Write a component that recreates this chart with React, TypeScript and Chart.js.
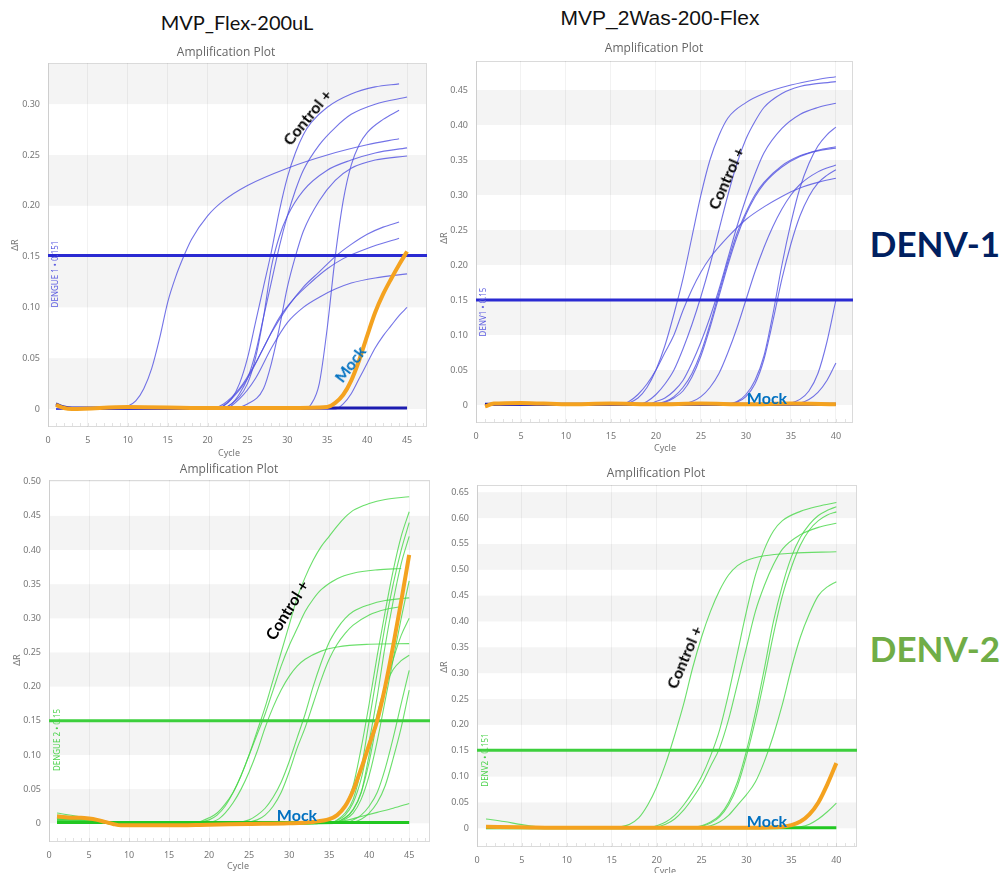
import React, { useEffect, useRef } from "react";
import { Chart, registerables } from "chart.js";

Chart.register(...registerables);

type Pt = [number, number];

// ---------- DENV-1 / MVP_Flex-200uL (45 cycles) ----------
const d1FlexThreshold = 0.151;
const d1FlexCurves: Pt[][] = [
  [[1, 0], [9, 0], [10, 0.003], [11, 0.008], [12, 0.02], [13, 0.04], [14, 0.07], [15, 0.105], [16, 0.13], [17, 0.15], [18, 0.167], [20, 0.19], [22, 0.205], [25, 0.22], [30, 0.237], [35, 0.25], [40, 0.26], [44, 0.266]],
  [[1, 0], [21, 0], [22, 0.003], [23, 0.01], [24, 0.025], [25, 0.05], [26, 0.085], [27, 0.12], [28, 0.155], [29, 0.195], [30, 0.228], [31, 0.252], [32, 0.27], [33, 0.282], [35, 0.297], [38, 0.31], [41, 0.317], [44, 0.32]],
  [[1, 0], [21, 0], [23, 0.005], [24, 0.015], [25, 0.03], [26, 0.055], [27, 0.09], [28, 0.125], [29, 0.16], [30, 0.19], [31, 0.215], [32, 0.235], [34, 0.26], [36, 0.277], [38, 0.29], [41, 0.3], [45, 0.307]],
  [[1, 0], [32, 0], [33, 0.005], [34, 0.025], [35, 0.08], [36, 0.15], [37, 0.205], [38, 0.24], [39, 0.26], [40, 0.272], [42, 0.285], [44, 0.294]],
  [[1, 0], [21, 0], [23, 0.005], [25, 0.025], [26, 0.05], [27, 0.09], [28, 0.14], [29, 0.17], [30, 0.19], [32, 0.215], [35, 0.235], [38, 0.245], [41, 0.252], [45, 0.257]],
  [[1, 0], [22, 0], [25, 0.005], [27, 0.02], [28, 0.045], [29, 0.08], [30, 0.12], [31, 0.15], [32, 0.175], [34, 0.205], [36, 0.225], [38, 0.237], [41, 0.245], [45, 0.249]],
  [[1, 0], [20, 0], [22, 0.005], [24, 0.02], [26, 0.045], [28, 0.075], [30, 0.1], [32, 0.12], [34, 0.135], [36, 0.15], [38, 0.162], [40, 0.172], [42, 0.179], [44, 0.184]],
  [[1, 0], [21, 0], [23, 0.01], [25, 0.03], [27, 0.06], [29, 0.09], [31, 0.11], [33, 0.125], [35, 0.138], [37, 0.148], [40, 0.158], [44, 0.168]],
  [[1, 0], [22, 0], [24, 0.01], [26, 0.03], [28, 0.06], [30, 0.085], [32, 0.1], [34, 0.11], [36, 0.118], [38, 0.124], [41, 0.129], [45, 0.133]],
  [[1, 0], [36, 0], [37, 0.005], [38, 0.015], [39, 0.03], [40, 0.045], [41, 0.06], [42, 0.072], [43, 0.082], [44, 0.092], [45, 0.1]],
];
const d1FlexMock: Pt[] = [[1, 0.004], [2, 0.001], [3, 0], [10, 0.002], [20, 0.001], [30, 0.001], [35, 0.002], [36, 0.006], [37, 0.014], [38, 0.028], [39, 0.048], [40, 0.072], [41, 0.095], [42, 0.113], [43, 0.128], [44, 0.142], [45, 0.155]];
const d1FlexFlat: Pt[] = [[1, 0.005], [2, 0.002], [3, 0.001], [45, 0.001]];

// ---------- DENV-1 / MVP_2Was-200-Flex (40 cycles) ----------
const d1WasThreshold = 0.15;
const d1WasCurves: Pt[][] = [
  [[1, 0], [16, 0], [17, 0.003], [18, 0.01], [19, 0.025], [20, 0.05], [21, 0.085], [22, 0.13], [23, 0.18], [24, 0.24], [25, 0.3], [26, 0.35], [27, 0.385], [28, 0.41], [30, 0.432], [32, 0.445], [35, 0.457], [38, 0.465], [40, 0.469]],
  [[1, 0], [16, 0], [17, 0.005], [18, 0.015], [19, 0.03], [20, 0.05], [21, 0.075], [22, 0.1], [23, 0.135], [24, 0.165], [25, 0.19], [26, 0.21], [28, 0.24], [30, 0.265], [32, 0.283], [34, 0.298], [36, 0.31], [38, 0.318], [40, 0.324]],
  [[1, 0], [18, 0], [19, 0.005], [20, 0.015], [21, 0.03], [22, 0.05], [23, 0.08], [24, 0.115], [25, 0.155], [26, 0.2], [27, 0.25], [28, 0.3], [29, 0.345], [30, 0.38], [31, 0.405], [32, 0.425], [34, 0.445], [36, 0.455], [40, 0.462]],
  [[1, 0], [19, 0], [20, 0.005], [21, 0.01], [22, 0.02], [23, 0.035], [24, 0.06], [25, 0.09], [26, 0.125], [27, 0.165], [28, 0.21], [29, 0.255], [30, 0.295], [31, 0.33], [32, 0.36], [34, 0.395], [36, 0.415], [38, 0.425], [40, 0.431]],
  [[1, 0], [19, 0], [21, 0.005], [22, 0.012], [23, 0.025], [24, 0.045], [25, 0.075], [26, 0.115], [27, 0.16], [28, 0.205], [29, 0.245], [30, 0.275], [31, 0.3], [32, 0.318], [34, 0.342], [36, 0.356], [38, 0.364], [40, 0.369]],
  [[1, 0], [19, 0], [21, 0.004], [22, 0.01], [23, 0.02], [24, 0.04], [25, 0.07], [26, 0.11], [27, 0.155], [28, 0.2], [29, 0.24], [30, 0.272], [31, 0.297], [32, 0.316], [34, 0.34], [36, 0.355], [38, 0.363], [40, 0.367]],
  [[1, 0], [22, 0], [24, 0.005], [25, 0.012], [26, 0.025], [27, 0.045], [28, 0.075], [29, 0.11], [30, 0.15], [31, 0.19], [32, 0.225], [33, 0.255], [34, 0.28], [35, 0.3], [36, 0.315], [38, 0.333], [40, 0.343]],
  [[1, 0], [27, 0], [29, 0.005], [30, 0.015], [31, 0.035], [32, 0.07], [33, 0.13], [34, 0.2], [35, 0.26], [36, 0.31], [37, 0.345], [38, 0.37], [39, 0.386], [40, 0.397]],
  [[1, 0], [27, 0], [29, 0.004], [30, 0.012], [31, 0.03], [32, 0.065], [33, 0.12], [34, 0.18], [35, 0.23], [36, 0.27], [37, 0.298], [38, 0.317], [39, 0.328], [40, 0.336]],
  [[1, 0], [33, 0], [35, 0.003], [36, 0.008], [37, 0.02], [38, 0.045], [39, 0.09], [40, 0.15]],
  [[1, 0], [34, 0], [36, 0.003], [37, 0.008], [38, 0.018], [39, 0.035], [40, 0.06]],
];
const d1WasMock: Pt[] = [[1, -0.002], [2, 0.002], [5, 0.003], [10, 0.001], [15, 0.002], [20, 0.001], [25, 0.002], [30, 0.001], [35, 0.002], [40, 0.001]];
const d1WasFlat: Pt[] = [[1, 0.001], [40, 0.001]];

// ---------- DENV-2 / MVP_Flex-200uL (45 cycles) ----------
const d2FlexThreshold = 0.15;
const d2FlexCurves: Pt[][] = [
  [[1, 0.006], [5, 0.004], [9, -0.002], [18, 0], [19, 0.003], [20, 0.008], [21, 0.015], [22, 0.028], [23, 0.045], [24, 0.07], [25, 0.1], [26, 0.135], [27, 0.17], [28, 0.21], [29, 0.25], [30, 0.29], [31, 0.33], [32, 0.36], [33, 0.385], [34, 0.405], [35, 0.42], [36, 0.435], [37, 0.448], [38, 0.458], [40, 0.468], [42, 0.474], [45, 0.478]],
  [[1, 0.012], [5, 0.006], [9, -0.002], [18, 0], [20, 0.005], [21, 0.012], [22, 0.025], [23, 0.045], [24, 0.07], [25, 0.1], [26, 0.13], [27, 0.16], [28, 0.195], [29, 0.23], [30, 0.26], [31, 0.285], [32, 0.31], [33, 0.328], [34, 0.342], [36, 0.358], [38, 0.366], [41, 0.371], [44, 0.373]],
  [[1, 0.004], [5, 0.003], [9, -0.002], [19, 0], [21, 0.005], [22, 0.015], [23, 0.03], [24, 0.05], [25, 0.075], [26, 0.105], [27, 0.14], [28, 0.17], [29, 0.195], [30, 0.215], [31, 0.23], [32, 0.24], [34, 0.252], [36, 0.258], [40, 0.262], [45, 0.263]],
  [[1, 0.008], [5, 0.005], [9, -0.002], [23, 0], [25, 0.005], [26, 0.012], [27, 0.022], [28, 0.038], [29, 0.06], [30, 0.09], [31, 0.125], [32, 0.16], [33, 0.2], [34, 0.235], [35, 0.265], [36, 0.285], [37, 0.3], [38, 0.31], [40, 0.32], [42, 0.326], [45, 0.33]],
  [[1, 0.003], [5, 0.003], [9, -0.002], [24, 0], [26, 0.005], [27, 0.012], [28, 0.025], [29, 0.045], [30, 0.075], [31, 0.11], [32, 0.14], [33, 0.175], [34, 0.21], [35, 0.24], [36, 0.262], [37, 0.278], [38, 0.29], [40, 0.305], [42, 0.313], [44, 0.317]],
  [[1, 0.015], [5, 0.007], [9, -0.002], [34, 0], [35, 0.004], [36, 0.01], [37, 0.025], [38, 0.055], [39, 0.11], [40, 0.175], [41, 0.245], [42, 0.31], [43, 0.37], [44, 0.42], [45, 0.456]],
  [[1, 0.005], [5, 0.004], [9, -0.002], [35, 0], [36, 0.005], [37, 0.015], [38, 0.035], [39, 0.08], [40, 0.15], [41, 0.22], [42, 0.29], [43, 0.35], [44, 0.4], [45, 0.44]],
  [[1, 0.007], [5, 0.004], [9, -0.002], [35, 0], [36, 0.004], [37, 0.012], [38, 0.03], [39, 0.065], [40, 0.12], [41, 0.185], [42, 0.26], [43, 0.325], [44, 0.38], [45, 0.42]],
  [[1, 0.002], [5, 0.002], [9, -0.002], [35, 0], [37, 0.008], [38, 0.02], [39, 0.045], [40, 0.09], [41, 0.15], [42, 0.2], [43, 0.24], [44, 0.275], [45, 0.3]],
  [[1, 0.009], [5, 0.005], [9, -0.002], [35, 0], [37, 0.006], [38, 0.015], [39, 0.035], [40, 0.07], [41, 0.12], [42, 0.18], [43, 0.24], [44, 0.3], [45, 0.355]],
  [[1, 0.004], [5, 0.003], [9, -0.002], [35, 0], [37, 0.008], [38, 0.02], [39, 0.045], [40, 0.1], [41, 0.16], [42, 0.2], [43, 0.225], [44, 0.238], [45, 0.246]],
  [[1, 0.006], [5, 0.004], [9, -0.002], [37, 0], [38, 0.005], [39, 0.012], [40, 0.025], [41, 0.045], [42, 0.08], [43, 0.125], [44, 0.175], [45, 0.224]],
  [[1, 0.003], [5, 0.003], [9, -0.002], [37, 0], [39, 0.006], [40, 0.015], [41, 0.03], [42, 0.055], [43, 0.095], [44, 0.14], [45, 0.195]],
  [[1, 0.005], [5, 0.004], [9, -0.002], [35, 0], [37, 0.004], [39, 0.01], [41, 0.016], [43, 0.022], [45, 0.029]],
];
const d2FlexMock: Pt[] = [[1, 0.01], [2, 0.009], [3, 0.008], [4, 0.008], [5, 0.007], [6, 0.005], [7, 0.002], [8, -0.001], [9, -0.003], [10, -0.003], [15, -0.003], [20, -0.002], [25, -0.001], [30, 0], [33, 0.002], [35, 0.006], [36, 0.012], [37, 0.025], [38, 0.048], [39, 0.08], [40, 0.115], [41, 0.15], [42, 0.2], [43, 0.26], [44, 0.325], [45, 0.393]];
const d2FlexFlat: Pt[] = [[1, 0.001], [45, 0.001]];

// ---------- DENV-2 / MVP_2Was-200-Flex (40 cycles) ----------
const d2WasThreshold = 0.151;
const d2WasCurves: Pt[][] = [
  [[1, 0.018], [3, 0.013], [5, 0.007], [7, 0.002], [9, 0], [15, 0], [16, 0.003], [17, 0.008], [18, 0.02], [19, 0.045], [20, 0.08], [21, 0.125], [22, 0.18], [23, 0.24], [24, 0.31], [25, 0.37], [26, 0.42], [27, 0.46], [28, 0.49], [29, 0.508], [30, 0.518], [32, 0.527], [35, 0.532], [40, 0.535]],
  [[1, 0], [19, 0], [20, 0.005], [21, 0.012], [22, 0.025], [23, 0.045], [24, 0.07], [25, 0.1], [26, 0.14], [27, 0.19], [28, 0.26], [29, 0.34], [30, 0.42], [31, 0.49], [32, 0.54], [33, 0.575], [34, 0.595], [36, 0.613], [38, 0.623], [40, 0.63]],
  [[1, 0], [19, 0], [21, 0.008], [22, 0.018], [23, 0.035], [24, 0.058], [25, 0.085], [26, 0.12], [27, 0.155], [28, 0.21], [29, 0.28], [30, 0.35], [31, 0.42], [32, 0.47], [33, 0.51], [34, 0.54], [36, 0.568], [38, 0.582], [40, 0.59]],
  [[1, 0], [23, 0], [25, 0.005], [26, 0.012], [27, 0.025], [28, 0.05], [29, 0.09], [30, 0.15], [31, 0.225], [32, 0.31], [33, 0.4], [34, 0.47], [35, 0.525], [36, 0.563], [37, 0.588], [38, 0.605], [39, 0.615], [40, 0.622]],
  [[1, 0], [23, 0], [25, 0.004], [26, 0.01], [27, 0.022], [28, 0.045], [29, 0.082], [30, 0.14], [31, 0.21], [32, 0.29], [33, 0.375], [34, 0.45], [35, 0.505], [36, 0.548], [37, 0.577], [38, 0.595], [39, 0.606], [40, 0.612]],
  [[1, 0], [24, 0], [26, 0.005], [27, 0.012], [28, 0.025], [29, 0.045], [30, 0.065], [31, 0.09], [32, 0.13], [33, 0.18], [34, 0.24], [35, 0.31], [36, 0.37], [37, 0.415], [38, 0.45], [39, 0.467], [40, 0.477]],
  [[1, 0], [34, 0], [36, 0.003], [37, 0.008], [38, 0.018], [39, 0.032], [40, 0.0485]],
];
const d2WasMock: Pt[] = [[1, 0.003], [5, 0.002], [10, 0.001], [20, 0.001], [30, 0.001], [33, 0.002], [34, 0.003], [35, 0.006], [36, 0.013], [37, 0.027], [38, 0.05], [39, 0.085], [40, 0.126]];
const d2WasFlat: Pt[] = [[1, 0.001], [40, 0.001]];

const ORANGE = "#f4a21f";
const TICK_FONT = "'Noto Sans', 'DejaVu Sans', sans-serif";
const TOP_PAD = 10;

type PlotSpec = {
  left: number; top: number; width: number; height: number;
  yAxisW: number; xAxisH: number; xMax: number; yMin: number; yMax: number;
  curves: Pt[][]; mock: Pt[]; flat: Pt[]; threshold: number;
  curveColor: string; flatColor: string; thresholdColor: string;
};

// plot background: alternating grey bands every 0.05 and a thin frame, plus minor cycle ticks
const bandPlugin = {
  id: "ampBands",
  beforeDraw(chart: any) {
    const { ctx, chartArea: a, scales } = chart;
    const y = scales.y;
    const x = scales.x;
    ctx.save();
    ctx.fillStyle = "#ffffff";
    ctx.fillRect(a.left, a.top, a.width, a.height);
    ctx.fillStyle = "#f4f4f4";
    for (let k = 0; k * 0.05 < y.max; k += 2) {
      const bot = y.getPixelForValue(k * 0.05);
      const top = Math.max(y.getPixelForValue((k + 1) * 0.05), a.top);
      ctx.fillRect(a.left, top, a.width, bot - top);
    }
    ctx.strokeStyle = "#e2e2e2";
    ctx.lineWidth = 1;
    for (let c = 1; c <= Math.floor(x.max); c++) {
      const px = Math.round(x.getPixelForValue(c)) + 0.5;
      ctx.beginPath();
      ctx.moveTo(px, a.bottom - 4);
      ctx.lineTo(px, a.bottom);
      ctx.stroke();
    }
    ctx.strokeStyle = "#dadada";
    ctx.strokeRect(a.left + 0.5, a.top + 0.5, a.width - 1, a.height - 1);
    ctx.restore();
  },
};

function AmpPlot({ spec }: { spec: PlotSpec }) {
  const ref = useRef<HTMLCanvasElement>(null);
  const canvasTop = spec.top - TOP_PAD;
  const canvasH = spec.height + TOP_PAD;
  useEffect(() => {
    const toXY = (pts: Pt[]) => pts.map(([x, y]) => ({ x, y }));
    const line = (data: Pt[], color: string, width: number, order: number) => ({
      data: toXY(data),
      borderColor: color,
      borderWidth: width,
      pointRadius: 0,
      fill: false,
      cubicInterpolationMode: "monotone" as const,
      order,
    });
    const datasets: any[] = [
      line(spec.mock, ORANGE, 4, 0),
      line([[0, spec.threshold], [spec.xMax, spec.threshold]], spec.thresholdColor, 3, 1),
      line(spec.flat, spec.flatColor, 3, 2),
      ...spec.curves.map((c) => line(c, spec.curveColor, 1.1, 3)),
    ];
    const noPad = (s: any) => {
      s.paddingTop = 0; s.paddingBottom = 0; s.paddingLeft = 0; s.paddingRight = 0;
    };
    const chart = new Chart(ref.current!, {
      type: "line",
      data: { datasets },
      plugins: [bandPlugin],
      options: {
        animation: false,
        responsive: false,
        maintainAspectRatio: false,
        layout: { padding: { top: TOP_PAD, left: 0, right: 0, bottom: 0 } },
        plugins: { legend: { display: false }, tooltip: { enabled: false } },
        scales: {
          x: {
            type: "linear",
            min: 0,
            max: spec.xMax,
            afterFit: (s: any) => { s.height = spec.xAxisH; noPad(s); },
            border: { display: false },
            grid: { color: "rgba(0,0,0,0.05)", drawTicks: false },
            ticks: {
              stepSize: 5, includeBounds: false, autoSkip: false, maxRotation: 0,
              padding: 8, color: "#777", font: { size: 9, family: TICK_FONT },
            },
          },
          y: {
            type: "linear",
            min: spec.yMin,
            max: spec.yMax,
            afterFit: (s: any) => { s.width = spec.yAxisW; noPad(s); },
            border: { display: false },
            grid: { display: false, drawTicks: false },
            ticks: {
              stepSize: 0.05, includeBounds: false, padding: 8, color: "#777",
              font: { size: 9, family: TICK_FONT },
              callback: (v: any) => (Math.abs(Number(v)) < 1e-9 ? "0" : Number(v).toFixed(2)),
            },
          },
        },
      },
    });
    return () => chart.destroy();
  }, [spec]);
  return (
    <canvas
      ref={ref}
      width={spec.width}
      height={canvasH}
      style={{ position: "absolute", left: spec.left, top: canvasTop, width: spec.width, height: canvasH }}
    />
  );
}

function Txt({ x, y, rot = 0, style, children }: { x: number; y: number; rot?: number; style?: any; children: any }) {
  return (
    <div
      style={{
        position: "absolute", left: x, top: y, whiteSpace: "nowrap", lineHeight: 1,
        transform: `translate(-50%, -50%) rotate(${rot}deg)`, ...style,
      }}
    >
      {children}
    </div>
  );
}

const BLUE_CURVE = "rgba(80,80,225,0.8)";
const BLUE_THR = "#2a2ad2";
const BLUE_FLAT = "#1c1cb0";
const GREEN_CURVE = "rgba(70,215,70,0.8)";
const GREEN_THR = "#3ccf3c";
const GREEN_FLAT = "#22c822";

const plots: PlotSpec[] = [
  { left: 0, top: 63, width: 427, height: 400, yAxisW: 48, xAxisH: 36, xMax: 47.5, yMin: -0.0177, yMax: 0.3405,
    curves: d1FlexCurves, mock: d1FlexMock, flat: d1FlexFlat, threshold: d1FlexThreshold,
    curveColor: BLUE_CURVE, flatColor: BLUE_FLAT, thresholdColor: BLUE_THR },
  { left: 430, top: 61, width: 423, height: 400, yAxisW: 46, xAxisH: 38, xMax: 41.9, yMin: -0.0257, yMax: 0.4914,
    curves: d1WasCurves, mock: d1WasMock, flat: d1WasFlat, threshold: d1WasThreshold,
    curveColor: BLUE_CURVE, flatColor: BLUE_FLAT, thresholdColor: BLUE_THR },
  { left: 0, top: 480, width: 430, height: 393, yAxisW: 49, xAxisH: 31, xMax: 47.6, yMin: -0.0274, yMax: 0.5025,
    curves: d2FlexCurves, mock: d2FlexMock, flat: d2FlexFlat, threshold: d2FlexThreshold,
    curveColor: GREEN_CURVE, flatColor: GREEN_FLAT, thresholdColor: GREEN_THR },
  { left: 430, top: 485, width: 427, height: 388, yAxisW: 47, xAxisH: 26, xMax: 42.3, yMin: -0.0362, yMax: 0.664,
    curves: d2WasCurves, mock: d2WasMock, flat: d2WasFlat, threshold: d2WasThreshold,
    curveColor: GREEN_CURVE, flatColor: GREEN_FLAT, thresholdColor: GREEN_THR },
];

const small = { fontFamily: TICK_FONT, fontSize: 9, color: "#777" };
const plotTitle = { fontFamily: "'Open Sans', sans-serif", fontSize: 12, color: "#666" };
const ctrl = { fontFamily: "Lato, sans-serif", fontWeight: 700, fontSize: 16, color: "#000" };
const mock = { fontFamily: "Lato, sans-serif", fontWeight: 700, fontSize: 16, color: "#0070c0" };

export default function App() {
  return (
    <div style={{ position: "absolute", left: 0, top: 0, width: 1004, height: 873, background: "#fff", overflow: "hidden" }}>
      {plots.map((p, i) => <AmpPlot key={i} spec={p} />)}

      <Txt x={237} y={22} style={{ fontFamily: "Lato, sans-serif", fontSize: 20, color: "#111" }}>MVP_Flex-200uL</Txt>
      <Txt x={660} y={17} style={{ fontFamily: "'Liberation Sans', Arial, sans-serif", fontSize: 21, color: "#111" }}>MVP_2Was-200-Flex</Txt>

      <Txt x={226} y={52} style={plotTitle}>Amplification Plot</Txt>
      <Txt x={654} y={48} style={plotTitle}>Amplification Plot</Txt>
      <Txt x={229} y={469} style={plotTitle}>Amplification Plot</Txt>
      <Txt x={656} y={473} style={plotTitle}>Amplification Plot</Txt>

      <Txt x={229} y={452} style={small}>Cycle</Txt>
      <Txt x={665} y={447} style={small}>Cycle</Txt>
      <Txt x={238} y={865} style={small}>Cycle</Txt>
      <Txt x={665} y={870} style={small}>Cycle</Txt>

      <Txt x={14} y={245} rot={-90} style={small}>ΔR</Txt>
      <Txt x={443} y={238} rot={-90} style={small}>ΔR</Txt>
      <Txt x={16} y={660} rot={-90} style={small}>ΔR</Txt>
      <Txt x={443} y={667} rot={-90} style={small}>ΔR</Txt>

      <Txt x={55} y={274} rot={-90} style={{ ...small, fontSize: 8, color: "#5a5ae0" }}>DENGUE 1 • 0.151</Txt>
      <Txt x={483} y={312} rot={-90} style={{ ...small, fontSize: 8, color: "#5a5ae0" }}>DENV1 • 0.15</Txt>
      <Txt x={57} y={740} rot={-90} style={{ ...small, fontSize: 8, color: "#4cd24c" }}>DENGUE 2 • 0.15</Txt>
      <Txt x={485} y={760} rot={-90} style={{ ...small, fontSize: 8, color: "#4cd24c" }}>DENV2 • 0.151</Txt>

      <Txt x={307} y={117} rot={-51} style={ctrl}>Control +</Txt>
      <Txt x={350} y={364} rot={-53} style={mock}>Mock</Txt>
      <Txt x={726} y={178} rot={-66} style={ctrl}>Control +</Txt>
      <Txt x={767} y={398} style={mock}>Mock</Txt>
      <Txt x={287} y={610} rot={-58} style={ctrl}>Control +</Txt>
      <Txt x={297} y={815} style={mock}>Mock</Txt>
      <Txt x={684} y={657} rot={-67} style={ctrl}>Control +</Txt>
      <Txt x={767} y={821} style={mock}>Mock</Txt>

      <Txt x={935} y={243} style={{ fontFamily: "Lato, sans-serif", fontWeight: 700, fontSize: 35, color: "#002060" }}>DENV-1</Txt>
      <Txt x={935} y={648} style={{ fontFamily: "Lato, sans-serif", fontWeight: 700, fontSize: 35, color: "#70ad47" }}>DENV-2</Txt>
    </div>
  );
}
